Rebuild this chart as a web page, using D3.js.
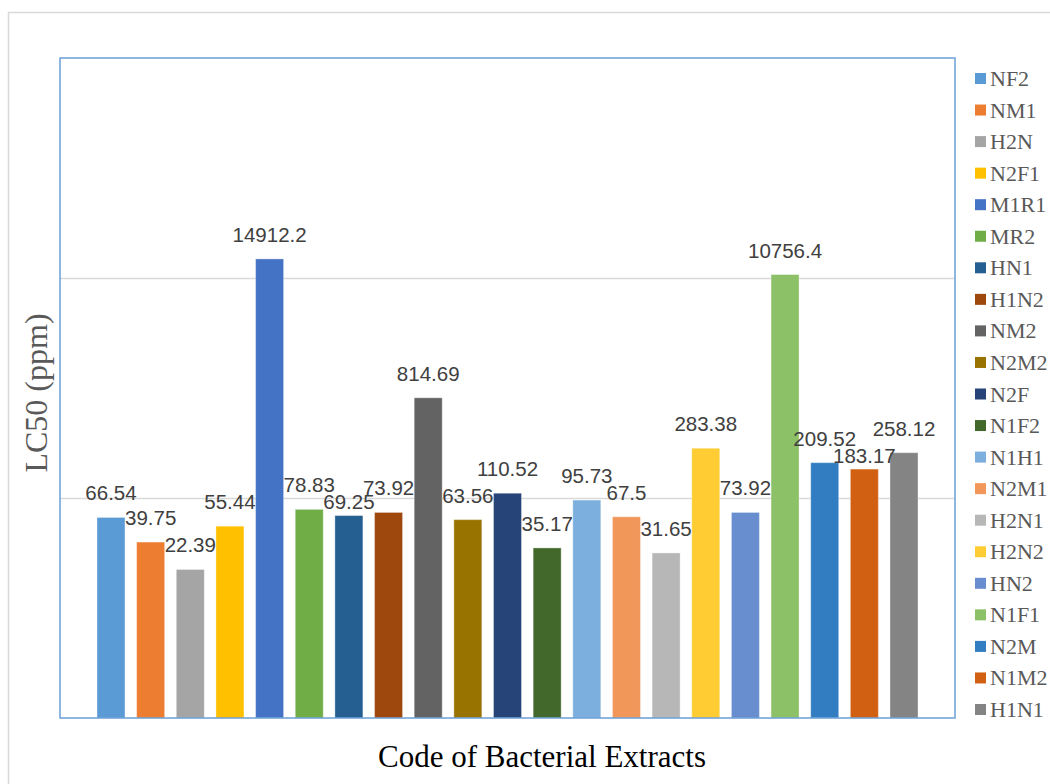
<!DOCTYPE html>
<html>
<head>
<meta charset="utf-8">
<script src="https://cdn.jsdelivr.net/npm/d3@7"></script>
<style>
  body { margin: 0; background: #fff; }
</style>
</head>
<body>
<div id="chart"></div>
<script>
// data
const codes = ['NF2', 'NM1', 'H2N', 'N2F1', 'M1R1', 'MR2', 'HN1', 'H1N2', 'NM2', 'N2M2', 'N2F',
  'N1F2', 'N1H1', 'N2M1', 'H2N1', 'H2N2', 'HN2', 'N1F1', 'N2M', 'N1M2', 'H1N1'];
const lc50 = [66.54, 39.75, 22.39, 55.44, 14912.2, 78.83, 69.25, 73.92, 814.69, 63.56, 110.52,
  35.17, 95.73, 67.5, 31.65, 283.38, 73.92, 10756.4, 209.52, 183.17, 258.12];
const barColors = ['#5b9bd5', '#ed7d31', '#a5a5a5', '#ffc000', '#4472c4', '#70ad47', '#255e91',
  '#9e480e', '#636363', '#997300', '#264478', '#43682b', '#7cafdd', '#f1975a', '#b7b7b7',
  '#ffcd33', '#698ed0', '#8cc168', '#327dc2', '#d26012', '#848484'];
const gridValues = [100, 10000];

const width = 1050;
const height = 784;
const plot = {left: 60, right: 955, top: 58, bottom: 718};
// labels excel pushed down a little so they would not collide
const labelNudge = {HN1: 10, N1M2: 11};

const svg = d3.select('#chart')
    .append('svg')
    .attr('width', width)
    .attr('height', height);

// chart area frame
svg.append('rect')
    .attr('x', 8.5).attr('y', 12.5)
    .attr('width', 1100).attr('height', 800)
    .attr('fill', '#fff')
    .attr('stroke', '#d9d9d9')
    .attr('stroke-width', 1.5);

const x = d3.scaleBand()
    .domain(codes)
    .range([plot.left, plot.right])
    .paddingInner(0.294)
    .paddingOuter(0.933);

const y = d3.scaleLog()
    .domain([1, 1e6])
    .range([plot.bottom, plot.top]);

const color = d3.scaleOrdinal().domain(codes).range(barColors);

// gridlines
const grid = svg.append('g')
    .attr('transform', `translate(${plot.left},0)`)
    .call(d3.axisLeft(y)
        .tickValues(gridValues)
        .tickSize(-(plot.right - plot.left))
        .tickFormat(''));
grid.select('.domain').remove();
grid.selectAll('line').attr('stroke', '#d9d9d9').attr('stroke-width', 1.5);

const rows = codes.map((code, i) => ({code, value: lc50[i]}));

svg.append('g')
    .selectAll('rect')
    .data(rows)
    .join('rect')
    .attr('x', (d) => x(d.code))
    .attr('y', (d) => y(d.value))
    .attr('width', x.bandwidth())
    .attr('height', (d) => plot.bottom - y(d.value))
    .attr('fill', (d) => color(d.code))
    .attr('stroke', '#fff')
    .attr('stroke-opacity', 0.35)
    .attr('stroke-width', 1);

svg.append('g')
    .attr('font-family', '"Liberation Sans", Arial, sans-serif')
    .attr('font-size', 20.5)
    .attr('fill', '#404040')
    .attr('text-anchor', 'middle')
    .selectAll('text')
    .data(rows)
    .join('text')
    .attr('x', (d) => x(d.code) + x.bandwidth() / 2)
    .attr('y', (d) => y(d.value) - 17 + (labelNudge[d.code] || 0))
    .text((d) => d.value);

// plot area border
svg.append('rect')
    .attr('x', plot.left).attr('y', plot.top)
    .attr('width', plot.right - plot.left)
    .attr('height', plot.bottom - plot.top)
    .attr('fill', 'none')
    .attr('stroke', '#6a9fd6')
    .attr('stroke-width', 1.5);

// legend
const legend = svg.append('g')
    .attr('font-family', '"Liberation Serif", "Times New Roman", serif')
    .attr('font-size', 22)
    .attr('fill', '#595959');
const legendRow = legend.selectAll('g')
    .data(codes)
    .join('g')
    .attr('transform', (d, i) => `translate(975,${78.5 + i * 31.55})`);
legendRow.append('rect')
    .attr('x', 0).attr('y', -5.5)
    .attr('width', 11).attr('height', 11)
    .attr('fill', (d) => color(d));
legendRow.append('text')
    .attr('x', 15)
    .attr('y', 7.5)
    .text((d) => d);

// axis titles
svg.append('text')
    .attr('x', 542)
    .attr('y', 767)
    .attr('text-anchor', 'middle')
    .attr('font-family', '"Liberation Serif", "Times New Roman", serif')
    .attr('font-size', 31)
    .attr('fill', '#000')
    .text('Code of Bacterial Extracts');

svg.append('text')
    .attr('transform', 'translate(47,393) rotate(-90)')
    .attr('text-anchor', 'middle')
    .attr('font-family', '"Liberation Serif", "Times New Roman", serif')
    .attr('font-size', 32)
    .attr('fill', '#595959')
    .text('LC50 (ppm)');
</script>
</body>
</html>
